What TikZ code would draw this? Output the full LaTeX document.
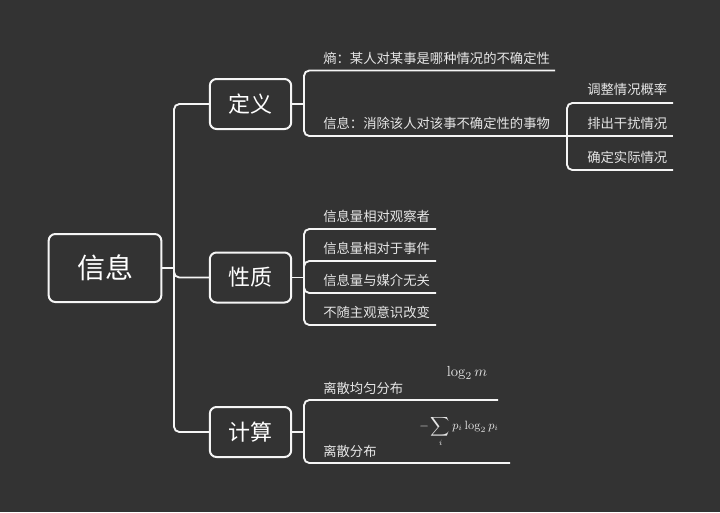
\documentclass[tikz,border=0pt]{standalone}
\usepackage[no-math]{fontspec}
\setmainfont{Noto Sans CJK SC}
\usetikzlibrary{positioning}
\definecolor{mapbg}{RGB}{51,51,51}
\definecolor{mapline}{RGB}{245,245,245}
\definecolor{maptext}{RGB}{230,230,230}

\begin{document}
\begin{tikzpicture}[x=0.75pt,y=-0.75pt,
    rootbox/.style={draw=mapline,line width=1.5pt,rounded corners=5pt,
      minimum width=84.5pt,minimum height=51pt,text=white,
      font=\fontsize{21}{24}\selectfont},
    topicbox/.style={draw=mapline,line width=1.5pt,rounded corners=5pt,
      minimum width=61pt,minimum height=37.5pt,text=white,
      font=\fontsize{16.5}{20}\selectfont},
    leaf/.style={anchor=west,inner sep=0pt,text=maptext,
      font=\fontsize{10}{12}\selectfont},
    formula/.style={inner sep=0pt,text=maptext},
    branch/.style={draw=mapline,line width=1.4pt,rounded corners=4pt}]
    \fill[mapbg] (0,0) rectangle (720,512);
    \useasboundingbox (0,0) rectangle (720,512);
    % Tópicos
    \node[rootbox] (info) at (105,268) {信息};
    \node[topicbox] (def) at (250.5,104) {定义};
    \node[topicbox] (prop) at (250.5,277.5) {性质};
    \node[topicbox] (calc) at (250.5,432) {计算};
    % Tronco
    \coordinate (spine) at (174,268);
    \draw[branch] (info.east) -- (spine);
    \draw[branch] (spine) |- (def.west);
    \draw[branch] (spine) |- (prop.west);
    \draw[branch] (spine) |- (calc.west);
    % 定义
    \coordinate (defj) at (304,104);
    \coordinate (entend) at (555,70.5);
    \coordinate (infoj) at (567,136);
    \draw[branch] (def.east) -- (defj);
    \draw[branch] (defj) |- (entend);
    \draw[branch] (defj) |- (infoj);
    \node[leaf] (ent) at (323,58) {熵：某人对某事是哪种情况的不确定性};
    \node[leaf] (infodef) at (323,123) {信息：消除该人对该事不确定性的事物};
    % 信息的作用
    \coordinate (use1) at (673,103);
    \coordinate (use2) at (673,136);
    \coordinate (use3) at (673,170);
    \draw[branch] (infoj) |- (use1);
    \draw[branch] (infoj) -- (use2);
    \draw[branch] (infoj) |- (use3);
    \node[leaf] (usetxt1) at (587,89) {调整情况概率};
    \node[leaf] (usetxt2) at (587,123) {排出干扰情况};
    \node[leaf] (usetxt3) at (587,157) {确定实际情况};
    % 性质
    \coordinate (propj) at (304,277.5);
    \draw[branch] (prop.east) -- (propj);
    \foreach \y/\t [count=\i] in {229/信息量相对观察者,261/信息量相对于事件,
        293/信息量与媒介无关,325/不随主观意识改变}{
        \coordinate (propend\i) at (436,\y);
        \draw[branch] (propj) |- (propend\i);
        \node[leaf] (proptxt\i) at (323,\y-13) {\t};
    }
    % 计算
    \coordinate (calcj) at (304,432);
    \coordinate (uniend) at (498,400);
    \coordinate (disend) at (510,463);
    \draw[branch] (calc.east) -- (calcj);
    \draw[branch] (calcj) |- (uniend);
    \draw[branch] (calcj) |- (disend);
    \node[leaf] (uni) at (323,388) {离散均匀分布};
    \node[leaf] (dis) at (323,451) {离散分布};
    \node[formula,font=\fontsize{11}{13}\selectfont] (unif) at (467,373) {$\log_2 m$};
    \node[formula,font=\fontsize{9}{11}\selectfont] (disf) at (459,431)
        {$-\displaystyle\sum_i p_i\log_2 p_i$};
\end{tikzpicture}
\end{document}
